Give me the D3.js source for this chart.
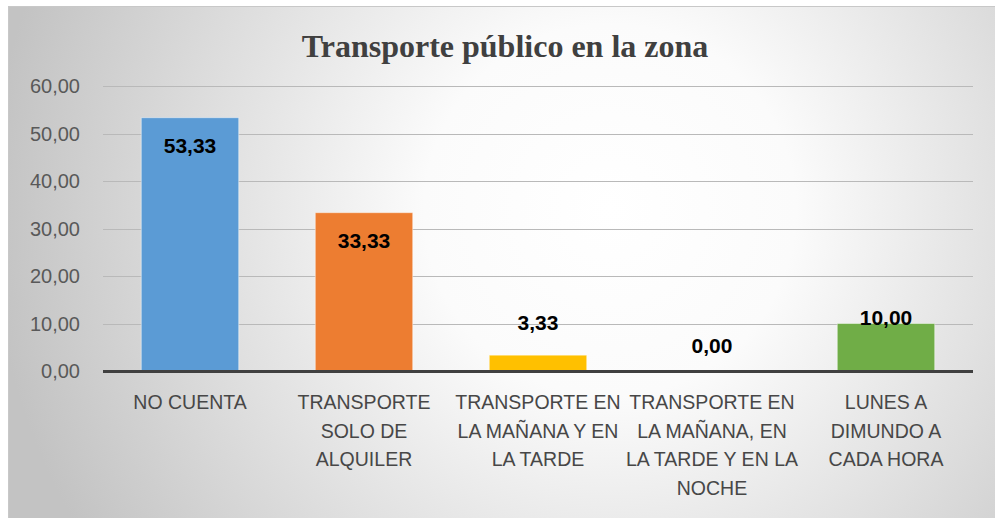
<!DOCTYPE html>
<meta charset="utf-8">
<style>
  body { margin: 0; padding: 0; background: #fff; }
  svg { display: block; }
  .tick-label { font-family: "Liberation Sans", Arial, sans-serif; font-size: 20px; fill: #595959; }
  .cat-label { font-family: "Liberation Sans", Arial, sans-serif; font-size: 19.5px; fill: #474747; }
  .val-label { font-family: "Liberation Sans", Arial, sans-serif; font-size: 21px; font-weight: bold; fill: #000; }
  .title { font-family: "Liberation Serif", "Times New Roman", serif; font-size: 32px; font-weight: bold; fill: #404040; }
</style>
<script src="https://d3js.org/d3.v7.min.js"></script>
<svg id="vis"></svg>
<script>

// data
var categories = [
  ["NO CUENTA"],
  ["TRANSPORTE", "SOLO DE", "ALQUILER"],
  ["TRANSPORTE EN", "LA MAÑANA Y EN", "LA TARDE"],
  ["TRANSPORTE EN", "LA MAÑANA, EN", "LA TARDE Y EN LA", "NOCHE"],
  ["LUNES A", "DIMUNDO A", "CADA HORA"]
];
var values = [53.33, 33.33, 3.33, 0.00, 10.00];
var barColors = ["#5b9bd5", "#ed7d31", "#ffc000", "#a5a5a5", "#70ad47"];
var yTicks = [0, 10, 20, 30, 40, 50, 60];
var title = "Transporte público en la zona";

var width = 995, height = 518;
var svg = d3.select("#vis").attr("width", width).attr("height", height);

// background with soft radial gradient
var defs = svg.append("defs");
var grad = defs.append("radialGradient")
  .attr("id", "bg")
  .attr("gradientUnits", "userSpaceOnUse")
  .attr("cx", 610).attr("cy", 210).attr("r", 620);
grad.append("stop").attr("offset", 0).attr("stop-color", "#ffffff");
grad.append("stop").attr("offset", 0.3).attr("stop-color", "#fbfbfb");
grad.append("stop").attr("offset", 1).attr("stop-color", "#c3c3c3");

svg.append("rect")
  .attr("x", 8.5).attr("y", 6.5)
  .attr("width", width).attr("height", height)
  .attr("fill", "url(#bg)")
  .attr("stroke", "#c8c8c8");

var plot = { left: 103, right: 973, top: 86, bottom: 371 };

var x = d3.scaleBand()
  .domain(d3.range(values.length))
  .range([plot.left, plot.right])
  .paddingInner(0.44)
  .paddingOuter(0.22);

var y = d3.scaleLinear()
  .domain([0, 60])
  .range([plot.bottom, plot.top]);

var fmt = d3.formatLocale({ decimal: ",", thousands: ".", grouping: [3], currency: ["", ""] }).format(".2f");

// gridlines
svg.append("g")
  .selectAll("line")
  .data(yTicks.filter(d => d > 0))
  .enter().append("line")
  .attr("x1", plot.left).attr("x2", plot.right)
  .attr("y1", d => Math.round(y(d)) + 0.5)
  .attr("y2", d => Math.round(y(d)) + 0.5)
  .attr("stroke", "#b9b9b9")
  .attr("stroke-width", 1);

// y tick labels
svg.append("g")
  .selectAll("text")
  .data(yTicks)
  .enter().append("text")
  .attr("class", "tick-label")
  .attr("x", 80)
  .attr("y", d => y(d))
  .attr("dy", "0.36em")
  .attr("text-anchor", "end")
  .text(d => fmt(d));

// bars
svg.append("g")
  .selectAll("rect")
  .data(values)
  .enter().append("rect")
  .attr("x", (d, i) => x(i))
  .attr("y", d => y(d))
  .attr("width", x.bandwidth())
  .attr("height", d => y(0) - y(d))
  .attr("fill", (d, i) => barColors[i])
  .attr("stroke", "rgba(255,255,255,0.45)")
  .attr("stroke-width", 1);

// baseline axis
svg.append("line")
  .attr("x1", plot.left).attr("x2", plot.right)
  .attr("y1", y(0) + 0.5).attr("y2", y(0) + 0.5)
  .attr("stroke", "#404040")
  .attr("stroke-width", 3);

// value labels (baseline offset from bar top, as placed in the original)
var labelDy = [35, 35, -25, -18, 1.5];
svg.append("g")
  .selectAll("text")
  .data(values)
  .enter().append("text")
  .attr("class", "val-label")
  .attr("x", (d, i) => x(i) + x.bandwidth() / 2)
  .attr("y", (d, i) => y(d) + labelDy[i])
  .attr("text-anchor", "middle")
  .text(d => fmt(d));

// category labels
var cat = svg.append("g")
  .selectAll("text")
  .data(categories)
  .enter().append("text")
  .attr("class", "cat-label")
  .attr("text-anchor", "middle")
  .attr("x", (d, i) => x(i) + x.bandwidth() / 2)
  .attr("y", 409);
cat.selectAll("tspan")
  .data(d => d)
  .enter().append("tspan")
  .attr("x", function () { return d3.select(this.parentNode).attr("x"); })
  .attr("dy", (d, i) => i === 0 ? 0 : 28.7)
  .text(d => d);

// title
svg.append("text")
  .attr("class", "title")
  .attr("x", 505)
  .attr("y", 57)
  .attr("text-anchor", "middle")
  .text(title);

</script>
